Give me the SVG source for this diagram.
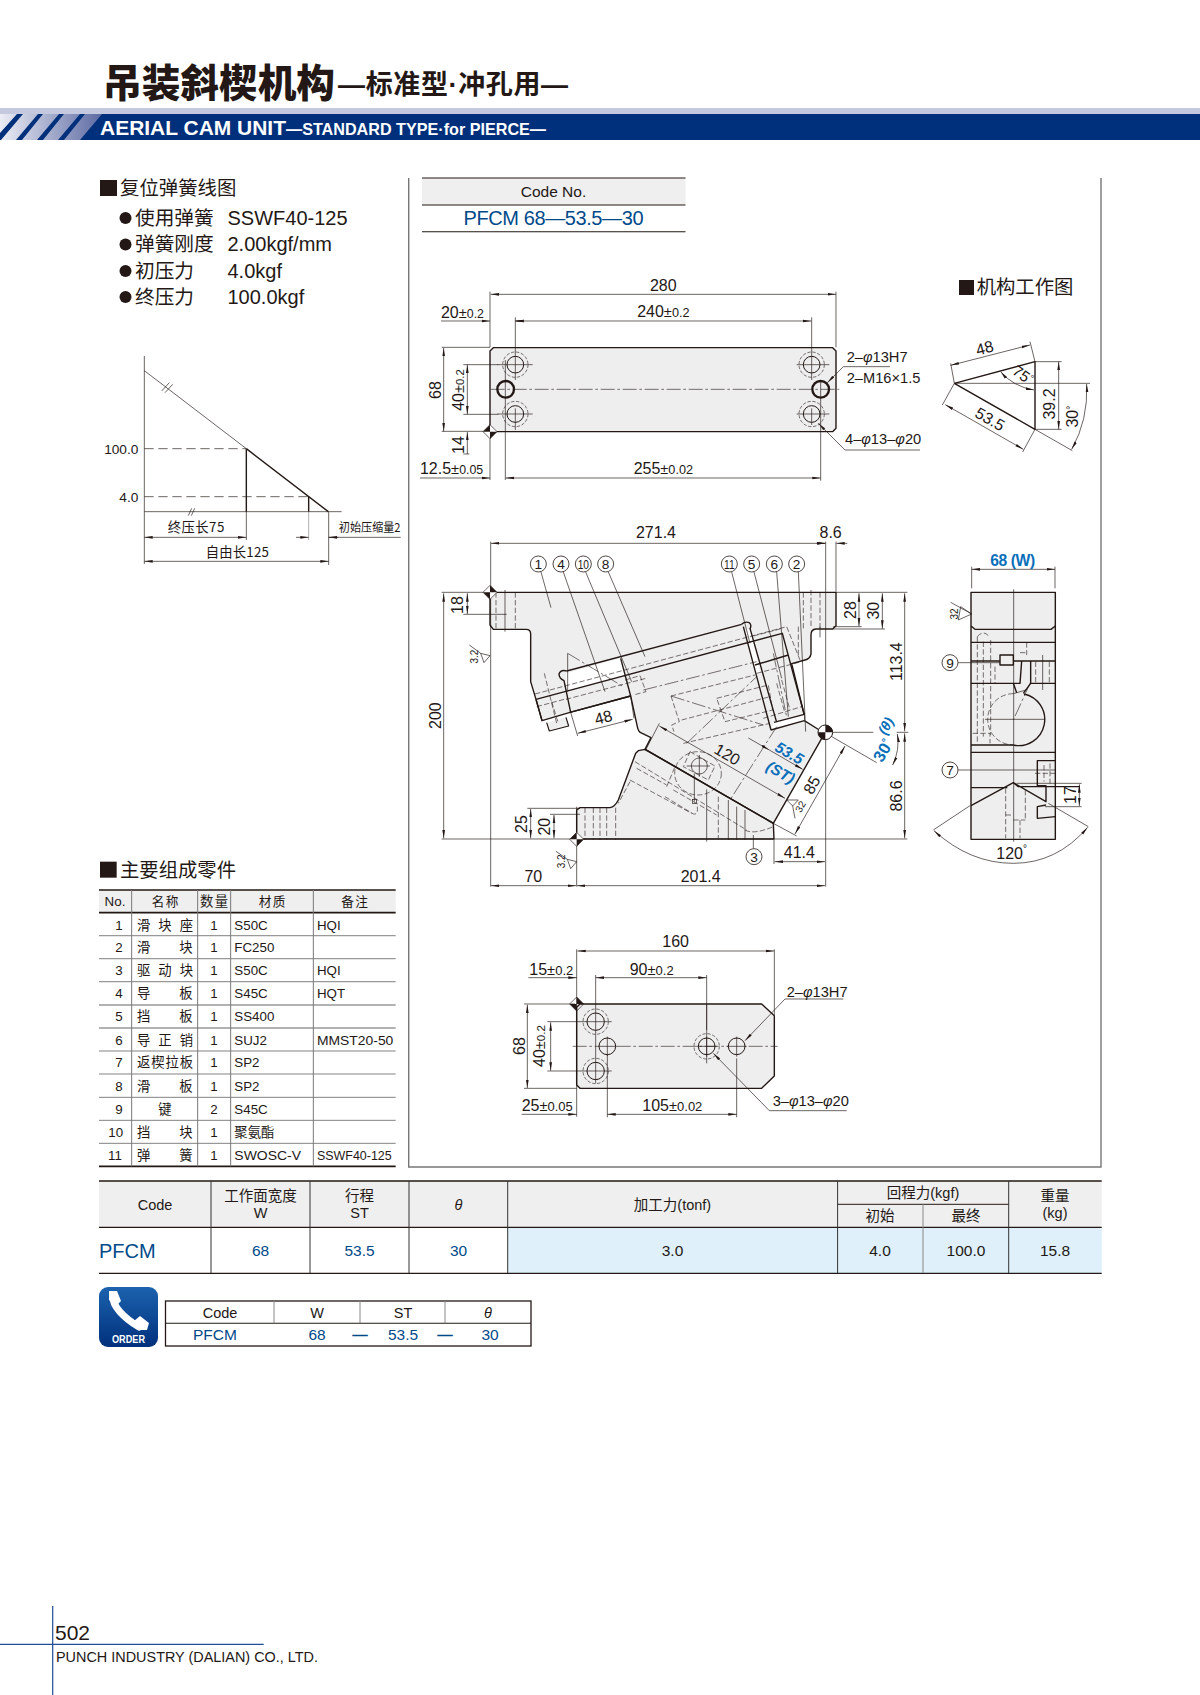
<svg xmlns="http://www.w3.org/2000/svg" width="1200" height="1695" viewBox="0 0 1200 1695">
<style>
text{font-family:"Liberation Sans","Noto Sans CJK SC",sans-serif;fill:#231815}
.cj{font-family:"Noto Sans CJK SC","Liberation Sans",sans-serif}
.mid{text-anchor:middle}
.end{text-anchor:end}
.blue{fill:#004a8a}
.sky{fill:#0a6fba;font-weight:bold}
.d{fill:none;stroke:#231815;stroke-width:2}
.g{fill:none;stroke:#8a8a8a;stroke-width:2}
.t{fill:none;stroke:#231815;stroke-width:4.2;stroke-linejoin:round}
.m{fill:none;stroke:#231815;stroke-width:3}
.ds{fill:none;stroke:#231815;stroke-width:1.800;stroke-dasharray:16 7}
.cl{fill:none;stroke:#231815;stroke-width:1.800;stroke-dasharray:42 8 8 8}
.body{fill:#eeeeee;stroke:#231815;stroke-width:4.2;stroke-linejoin:round}
.ar{marker-start:url(#a);marker-end:url(#a)}
.ae{marker-end:url(#a)}
.n{font-size:48px}
.h{font-size:14.5px}
.v{font-size:15.5px}
.w{fill:#fff;stroke:#231815;stroke-width:2.4}
</style>
<defs>
<marker id="a" markerUnits="userSpaceOnUse" markerWidth="26" markerHeight="10" refX="25" refY="5" orient="auto-start-reverse"><path d="M0,1 L25,5 L0,9 Z" fill="#231815"/></marker>
<linearGradient id="hg" x1="0" x2="1" y1="0" y2="0"><stop offset="0" stop-color="#eceDf5"/><stop offset="1" stop-color="#5d6ba3"/></linearGradient>
<linearGradient id="og" x1="0" x2="0" y1="0" y2="1"><stop offset="0" stop-color="#1c62ae"/><stop offset="1" stop-color="#00307c"/></linearGradient>
</defs>

<g id="header">
<text x="103" y="97" class="cj" font-size="38.5" font-weight="900" textLength="232" lengthAdjust="spacingAndGlyphs">吊装斜楔机构</text>
<text x="338" y="94" font-size="27" font-weight="700" textLength="230">—标准型·冲孔用—</text>
<rect x="0" y="108" width="1200" height="6" fill="#c5c9e0"/>
<rect x="0" y="114" width="1200" height="26" fill="#00307c"/>
<path d="M0,114H102L80,140H0Z" fill="url(#hg)"/>
<path d="M17,114h6L1,140h-1V133ZM38,114h5L22,140h-6ZM59,114h5L43,140h-6ZM80,114h5L64,140h-6Z" fill="#00307c"/>
<text x="100" y="135" font-size="21" font-weight="bold" style="fill:#fff" textLength="186" lengthAdjust="spacingAndGlyphs">AERIAL CAM UNIT</text>
<text x="286" y="134.500" font-size="16.500" font-weight="700" style="fill:#fff" textLength="260" lengthAdjust="spacingAndGlyphs">—STANDARD TYPE·for PIERCE—</text>
</g>

<g id="spring-spec">
<rect x="100" y="180" width="17" height="16" fill="#231815"/>
<text x="120" y="195" class="cj" font-size="19.400">复位弹簧线图</text>
<circle cx="125.500" cy="218" r="6" fill="#231815"/>
<circle cx="125.500" cy="244.500" r="6" fill="#231815"/>
<circle cx="125.500" cy="271" r="6" fill="#231815"/>
<circle cx="125.500" cy="297" r="6" fill="#231815"/>
<text x="135" y="225" class="cj" font-size="19.700">使用弹簧</text>
<text x="135" y="251" class="cj" font-size="19.700">弹簧刚度</text>
<text x="135" y="278" class="cj" font-size="19.700">初压力</text>
<text x="135" y="304" class="cj" font-size="19.700">终压力</text>
<text x="227.500" y="225" font-size="20">SSWF40-125</text>
<text x="227.500" y="251" font-size="20">2.00kgf/mm</text>
<text x="227.500" y="278" font-size="20">4.0kgf</text>
<text x="227.500" y="304" font-size="20">100.0kgf</text>
</g>

<g id="frame">
<path d="M408.700,178V1167H1101V178" fill="none" stroke="#777" stroke-width="1.400"/>
</g>

<g id="code-no">
<rect x="422" y="178" width="263.500" height="27" fill="#efefef"/>
<path d="M422,178H685.500M422,205H685.500M422,231.700H685.500" stroke="#231815" stroke-width="1.100" fill="none"/>
<text x="553.500" y="197" class="mid" font-size="15.500">Code No.</text>
<text x="553.500" y="224.500" class="mid blue" font-size="20" textLength="180">PFCM 68—53.5—30</text>
</g>

<g id="spring-chart" transform="translate(80 340) scale(.33333)">
<path class="d" d="M193,48V672M193,515H785M193,92L499,326"/>
<path class="t" d="M499,326L745,515M499,326V515M686,470V515"/>
<path class="d" d="M245,153L268,128M255,158L278,133M325,527L335,505M334,527L344,505"/>
<path class="ds" style="stroke-width:2;stroke-dasharray:28 14" d="M193,326H499M193,470H686"/>
<path class="g" d="M686,515V600"/>
<path class="d" d="M499,515V600M746,515V675"/>
<path class="d ar" d="M193,592H499"/>
<path class="d ar" d="M193,664H746"/>
<path class="d ae" d="M648,592H686"/>
<path class="d" d="M746,592H962"/>
<path class="d" marker-start="url(#a)" d="M746,592H775"/>
<text x="348" y="575" class="mid cj" font-size="40" textLength="170">终压长75</text>
<text x="472" y="652" class="mid cj" font-size="40" textLength="190">自由长125</text>
<text x="869" y="575" class="mid cj" font-size="37" textLength="185" lengthAdjust="spacingAndGlyphs">初始压缩量2</text>
<text x="175" y="342" class="end" font-size="41">100.0</text>
<text x="175" y="486" class="end" font-size="41">4.0</text>
</g>

<g id="top-view" transform="translate(410 260) scale(.33333)">
<path class="body" d="M250,263H1268L1278,273V505L1268,515H250L240,505V273Z"/>
<path class="cl" d="M242,388H1288"/>
<path class="d" d="M316,172V360M1205,172V360M1205,445V495M316,445V510M286,300V660M1232,360V662M240,95V262M240,516V660M1278,95V262"/>
<path class="d" d="M262,314H368M1160,314H1258M262,462H368M1160,462H1258"/>
<path class="d" d="M95,262H240M95,514H240M160,314H265M160,463H265M160,582H178"/>
<circle class="m" cx="316" cy="314" r="25"/>
<circle class="ds" cx="316" cy="314" r="38" style="stroke-dasharray:10 5"/>
<circle class="m" cx="316" cy="462" r="25"/>
<circle class="ds" cx="316" cy="462" r="38" style="stroke-dasharray:10 5"/>
<circle class="m" cx="1205" cy="314" r="25"/>
<circle class="ds" cx="1205" cy="314" r="38" style="stroke-dasharray:10 5"/>
<circle class="m" cx="1205" cy="462" r="25"/>
<circle class="ds" cx="1205" cy="462" r="38" style="stroke-dasharray:10 5"/>
<circle cx="287" cy="388" r="25" fill="none" stroke="#231815" stroke-width="7"/>
<circle cx="1232" cy="388" r="25" fill="none" stroke="#231815" stroke-width="7"/>
<path d="M240,494L261,515L240,536L219,515Z" fill="#fff" stroke="#231815" stroke-width="2"/>
<path d="M240,494L219,515H240ZM240,536L261,515H240Z" fill="#231815"/>
<path class="d ar" d="M242,103H1278"/>
<path class="d ar" d="M316,183H1204"/>
<path class="d ae" d="M93,183H240"/>
<path class="d" marker-start="url(#a)" d="M316,183H340"/>
<path class="d ar" d="M101,264V514"/>
<path class="d ar" d="M172,314V463"/>
<path class="d ae" d="M172,582V516"/>
<path class="d ae" d="M1440,320H1300L1252,368"/>
<path class="d ae" d="M1530,570H1305L1225,490"/>
<path class="d ae" d="M30,654H240"/>
<path class="d ar" d="M287,654H1232"/>
<text x="760" y="92" class="mid n">280</text>
<text x="760" y="170" class="mid n">240<tspan font-size="44">±</tspan><tspan font-size="38">0.2</tspan></text>
<text x="93" y="174" class="n">20<tspan font-size="44">±</tspan><tspan font-size="37">0.2</tspan></text>
<text x="30" y="642" class="n">12.5<tspan font-size="44">±</tspan><tspan font-size="37">0.05</tspan></text>
<text x="760" y="642" class="mid n">255<tspan font-size="44">±</tspan><tspan font-size="38">0.02</tspan></text>
<text transform="translate(92 390) rotate(-90)" class="mid n">68</text>
<text transform="translate(162 390) rotate(-90)" class="mid n">40<tspan font-size="44">±</tspan><tspan font-size="34">0.2</tspan></text>
<text transform="translate(162 555) rotate(-90)" class="mid n">14</text>
<text x="1310" y="305" font-size="44">2–<tspan font-style="italic">φ</tspan>13H7</text>
<text x="1310" y="368" font-size="44">2–M16×1.5</text>
<text x="1305" y="552" font-size="44">4–<tspan font-style="italic">φ</tspan>13–<tspan font-style="italic">φ</tspan>20</text>
</g>

<g id="working-diagram" transform="translate(910 260) scale(.33333)">
<rect x="147" y="60" width="45" height="45" fill="#231815"/>
<text x="200" y="102" class="cj" font-size="58">机构工作图</text>
<path class="t" d="M133,370L375,305V508L133,370"/>
<path class="d" d="M133,370H540M133,370L122,310M375,305L360,245M133,370L97,435M375,508L338,576M375,305H455M375,508H455M375,508L487,572"/>
<path class="d ar" d="M122,316L360,255"/>
<path class="d ar" d="M106,434L340,568"/>
<path class="d ar" d="M446,305V508"/>
<path class="d ar" d="M272,335Q310,380 372,390"/>
<path class="d ar" d="M530,372Q535,480 485,568"/>
<text transform="translate(228 280) rotate(-15)" class="mid n">48</text>
<text transform="translate(232 492) rotate(30)" class="mid n">53.5</text>
<text transform="translate(435 432) rotate(-90)" class="mid n">39.2</text>
<text transform="translate(330 358) rotate(35)" class="mid" font-size="46">75<tspan font-size="30" dy="-12">°</tspan></text>
<text transform="translate(505 470) rotate(-90)" class="mid n">30<tspan font-size="30" dy="-12">°</tspan></text>
</g>

<g id="front-view" transform="translate(410 510) scale(.33333)">
<path class="body" d="M250,247H1278V347L1268,357H1218Q1203,358 1203,375V432Q1200,447 1185,450L1145,461L1183,615V632L1228,660L1245,668L1090,940L705,718L723,683L692,668Q685,665 682,650L662,558L480,607L396,632L378,568L362,515V372Q362,358 348,358H250L240,345V258Z"/>
<path class="body" d="M500,900L510,893H600Q615,890 625,870L677,730L685,722L705,718L1090,940L1092,987H500Z"/>
<path d="M468,490L632,445L648,496L470,543Z" fill="#fff"/>
<path d="M1083,660L1183,632V613L1092,637Z" fill="#fff"/>
<path d="M1006,360L1022,357L1050,490L1038,492Z" fill="#fff"/>
<path class="body" d="M410,638L418,663L476,648L468,622" style="stroke-width:3.500"/>
<path class="t" d="M470,483L995,343M378,568L1117,370L1183,615M480,607L662,558M632,445L662,558M396,632L378,568M1083,660L1000,350M1100,637L1020,355M1083,660L1183,632M1092,637L1183,613M1035,465L1135,435M705,718L1090,940"/>
<path class="t" d="M470,483Q452,478 447,492Q447,505 462,512L482,607M995,343Q1005,333 1018,338Q1026,345 1020,357"/>
<path class="ds" d="M375,552L1130,350L1170,450M380,590L470,566M468,568L708,505M645,510L690,497L708,545L670,555M1030,378L1117,355M403,490L440,640M425,575L445,640"/>
<path class="cl" d="M473,430L640,530M700,540L1040,455M830,700L1040,500M783,558L1060,645M1100,650L960,870M1090,430L1130,620"/>
<path class="d" d="M473,430V545"/>
<path class="ds" d="M783,558L1035,495M783,558L808,635L785,645L792,665M820,700L1080,640M920,565L1075,525L1088,600L945,635ZM815,630L1080,560M1100,520L1125,610M1115,510L1140,600M1040,490L1175,455M1060,625L1175,590"/>
<path class="ds" d="M675,755L1010,960M660,810L845,910M680,775L770,825M790,840L920,915M1005,960Q1030,975 1090,950"/>
<ellipse class="ds" cx="864" cy="790" rx="70" ry="65"/>
<circle class="d" cx="868" cy="768" r="24"/>
<path class="d" d="M830,768H900M868,735V800M853,875V790"/>
<path class="ds" d="M840,725L915,768L895,810L820,770ZM770,830L795,770M765,860L850,912Q865,915 862,890"/>
<rect x="848" y="868" width="12" height="12" fill="none" stroke="#231815" stroke-width="2"/>
<path class="d" d="M890,838V995M955,870V990M980,890V990M1005,900V990"/>
<path class="ds" d="M925,860V985M525,893V990M550,893V990M570,893V990M590,893V990M617,893V990M660,815L625,880"/>
<path class="ds" d="M258,247V358M316,247V358M1180,247V358M1230,247V358M1203,240V355M1165,350V440"/>
<path class="d" d="M285,240V365M1230,350V382M500,890V1130M1247,95V1130M242,95V1130M1278,95V245M1092,990V1062"/>
<path class="d" d="M95,247H240M95,987H1492M160,313H290M1278,247H1492M1270,350H1355M1270,357H1425M352,895H510M420,913H510M1262,667H1390M1460,667H1495"/>
<path class="d ar" d="M101,250V985"/>
<path class="d ar" d="M172,250V312"/>
<path class="d ar" d="M1347,250V349"/>
<path class="d ar" d="M1417,250V356"/>
<path class="d ar" d="M1484,250V664"/>
<path class="d ar" d="M1484,670V985"/>
<path class="d ar" d="M362,897V985"/>
<path class="d ar" d="M432,915V985"/>
<path class="d ar" d="M243,100H1245"/>
<path class="d ae" d="M1220,100H1247"/>
<path class="d ae" d="M1312,100H1279"/>
<path class="d ar" d="M243,1127H498"/>
<path class="d ar" d="M501,1127H1245"/>
<path class="d ar" d="M1094,1055H1245"/>
<path class="d ar" d="M503,670L668,628"/>
<path class="d" d="M482,607L503,678M662,558L672,625"/>
<path class="d ar" d="M748,648L1125,865"/>
<path class="d" d="M748,640L708,718"/>
<path class="d ae" d="M1015,684L1078,720"/>
<path class="d ae" d="M1078,720L1178,778"/>
<path class="d ar" d="M1305,708L1155,972"/>
<path class="d" d="M1262,678L1400,758M1090,940L1160,978"/>
<path class="d ar" d="M1462,672Q1470,720 1448,765"/>
<path class="d" d="M393,186L423,293M460,186L585,545M527,186L665,515M595,186L705,440M965,186L1020,400M1032,186L1115,505M1100,186L1135,620M1165,186L1187,665M1030,1015V975"/>
<circle class="w" cx="385" cy="162" r="24"/><circle class="w" cx="453" cy="162" r="24"/><circle class="w" cx="520" cy="162" r="24"/><circle class="w" cx="587" cy="162" r="24"/>
<circle class="w" cx="958" cy="162" r="24"/><circle class="w" cx="1025" cy="162" r="24"/><circle class="w" cx="1093" cy="162" r="24"/><circle class="w" cx="1160" cy="162" r="24"/><circle class="w" cx="1032" cy="1040" r="24"/>
<text x="385" y="177" class="mid" font-size="41">1</text><text x="453" y="177" class="mid" font-size="41">4</text><text x="520" y="176" class="mid" font-size="38" textLength="34" lengthAdjust="spacingAndGlyphs">10</text><text x="587" y="177" class="mid" font-size="41">8</text>
<text x="958" y="176" class="mid" font-size="38" textLength="32" lengthAdjust="spacingAndGlyphs">11</text><text x="1025" y="177" class="mid" font-size="41">5</text><text x="1093" y="177" class="mid" font-size="41">6</text><text x="1160" y="177" class="mid" font-size="41">2</text><text x="1032" y="1055" class="mid" font-size="41">3</text>
<path d="M240,226L261,247L240,268L219,247Z" fill="#fff" stroke="#231815" stroke-width="2"/>
<path d="M240,226L261,247H240ZM240,268L219,247H240Z" fill="#231815"/>
<path d="M500,967L521,988L500,1009L479,988Z" fill="#fff" stroke="#231815" stroke-width="2"/>
<path d="M500,967V988H479ZM500,1009V988H521Z" fill="#231815"/>
<circle cx="1246" cy="667" r="22" fill="#fff" stroke="#231815" stroke-width="3"/>
<path d="M1246,667V645A22,22 0 0 1 1268,667ZM1246,667V689A22,22 0 0 1 1224,667Z" fill="#231815"/>
<path class="d" d="M178,405L212,430L240,437L222,458L212,430"/>
<path class="d" d="M438,1024L472,1048L500,1055L482,1076L472,1048"/>
<path class="d" d="M1130,870H1165L1148,888ZM1148,888L1155,925"/>
<text transform="translate(205 440) rotate(-90)" class="mid" font-size="30">3.2</text>
<text transform="translate(465 1054) rotate(-90)" class="mid" font-size="30">3.2</text>
<text transform="translate(1172 890) rotate(-60)" y="10" class="mid" font-size="30">32</text>
<text x="738" y="85" class="mid n">271.4</text>
<text x="1262" y="85" class="mid n">8.6</text>
<text transform="translate(92 617) rotate(-90)" class="mid n">200</text>
<text transform="translate(160 285) rotate(-90)" class="mid n">18</text>
<text transform="translate(1337 300) rotate(-90)" class="mid n">28</text>
<text transform="translate(1407 302) rotate(-90)" class="mid n">30</text>
<text transform="translate(1475 455) rotate(-90)" class="mid n">113.4</text>
<text transform="translate(1475 858) rotate(-90)" class="mid n">86.6</text>
<text transform="translate(352 942) rotate(-90)" class="mid n">25</text>
<text transform="translate(420 950) rotate(-90)" class="mid n">20</text>
<text x="370" y="1115" class="mid n">70</text>
<text x="872" y="1115" class="mid n">201.4</text>
<text x="1168" y="1045" class="mid n">41.4</text>
<text transform="translate(580 622) rotate(-15)" y="17" class="mid n">48</text>
<text transform="translate(952 733) rotate(30)" y="17" class="mid n">120</text>
<text transform="translate(1205 825) rotate(-60)" y="17" class="mid n">85</text>
<text transform="translate(1138 729) rotate(30)" y="16" class="mid sky" font-size="46" font-style="italic">53.5</text>
<text transform="translate(1112 787) rotate(30)" y="16" class="mid sky" font-size="46" font-style="italic">(ST)</text>
<text transform="translate(1420 722) rotate(-60)" y="16" class="mid sky" font-size="50">30<tspan font-size="32" dy="-14">°</tspan></text>
<text transform="translate(1428 648) rotate(-60)" y="14" class="mid sky" font-size="42" font-style="italic">(θ)</text>
</g>

<g id="side-view" transform="translate(920 540) scale(.33333)">
<rect class="body" x="153" y="157" width="253" height="741"/>
<path class="t" d="M153,258L165,268H393L406,258M153,307H406M153,363H240M280,363H406M153,430H280M332,430H406M153,615H280M153,637H406M153,743H262"/>
<path class="t" d="M153,797L280,728L378,785V737H352V662H406M378,795L352,800V835L406,830M280,728L295,740H480"/>
<path class="t" d="M240,345H280V375H240ZM305,363L300,430H280L290,458M332,363V430L310,460"/>
<path class="t" d="M312,462A77,77 0 0 1 280,615"/>
<path class="ds" d="M280,461A77,77 0 0 0 280,615"/>
<path class="ds" d="M172,290V610M190,305V590M212,300V585M172,290Q190,268 208,290M158,580H210V610M225,380V430M347,365V430M388,365V430M257,745V895M300,840V895M316,750V840M257,825H280M280,840H316M320,307V345M300,338H320M372,675V725M345,700H410M390,670V730"/>
<path class="d" d="M281,148V905M368,345V450M195,538H372M280,461L318,450"/>
<path class="cl" d="M330,430L280,540"/>
<path class="d ar" d="M155,88H405"/>
<path class="d" d="M155,80V145M405,80V145M290,730H485M375,800H485M150,797L40,870M385,790L505,860M114,368H240M114,690H405M92,187L155,222L122,200L115,240L155,222"/>
<path class="d ar" d="M478,733V798"/>
<path class="d ar" d="M42,872Q150,970 280,970T503,862"/>
<circle class="w" cx="90" cy="368" r="24"/><circle class="w" cx="90" cy="690" r="24"/>
<text x="90" y="383" class="mid" font-size="41">9</text>
<text x="90" y="705" class="mid" font-size="41">7</text>
<text x="278" y="78" class="mid sky" font-size="47" textLength="135">68 (W)</text>
<text transform="translate(467 765) rotate(-90)" class="mid n">17</text>
<text x="275" y="957" class="mid n">120<tspan font-size="30" dy="-20">°</tspan></text>
<text transform="translate(115 222) rotate(-90)" class="mid" font-size="30">32</text>
</g>

<g id="bottom-view" transform="translate(500 920) scale(.33333)">
<path class="body" d="M240,252H785L823,287V468L785,505H240L230,495V262Z"/>
<path class="cl" d="M218,379H833"/>
<path class="d" d="M230,88V590M823,88V285M287,165V490M620,165V430M322,379V592M710,415V592M72,252H225M72,505H230M142,305H335M142,453H335M620,255V330"/>
<circle class="m" cx="287" cy="305" r="26"/><circle class="ds" cx="287" cy="305" r="38" style="stroke-dasharray:10 5"/>
<circle class="m" cx="287" cy="453" r="26"/><circle class="ds" cx="287" cy="453" r="38" style="stroke-dasharray:10 5"/>
<circle class="m" cx="322" cy="379" r="25" style="fill:#eee"/>
<circle class="m" cx="620" cy="379" r="25"/><circle class="ds" cx="620" cy="379" r="38" style="stroke-dasharray:10 5"/>
<circle class="m" cx="710" cy="379" r="25" style="fill:#eee"/>
<path class="d" d="M322,350V408M295,379H350M620,350V410M590,379H650M710,350V410M680,379H740"/>
<path d="M230,231L251,252H230ZM230,273L209,252H230Z" fill="#231815"/>
<path d="M230,231L251,252L230,273L209,252Z" fill="none" stroke="#231815" stroke-width="2"/>
<path class="d ar" d="M232,93H822"/>
<path class="d ae" d="M85,173H230"/>
<path class="d ar" d="M287,173H620"/>
<path class="d ar" d="M82,254V504"/>
<path class="d ar" d="M152,307V452"/>
<path class="d ae" d="M65,583H230"/>
<path class="d ar" d="M322,583H710"/>
<path class="d ae" d="M1030,237H855L735,362"/>
<path class="d ae" d="M1040,572H808L640,400"/>
<text x="527" y="82" class="mid n">160</text>
<text x="88" y="165" class="n">15<tspan font-size="44">±</tspan><tspan font-size="39">0.2</tspan></text>
<text x="455" y="165" class="mid n">90<tspan font-size="44">±</tspan><tspan font-size="39">0.2</tspan></text>
<text x="65" y="573" class="n">25<tspan font-size="44">±</tspan><tspan font-size="39">0.05</tspan></text>
<text x="517" y="573" class="mid n">105<tspan font-size="44">±</tspan><tspan font-size="39">0.02</tspan></text>
<text transform="translate(75 378) rotate(-90)" class="mid n">68</text>
<text transform="translate(135 378) rotate(-90)" class="mid n">40<tspan font-size="44">±</tspan><tspan font-size="35">0.2</tspan></text>
<text x="860" y="230" font-size="44">2–<tspan font-style="italic">φ</tspan>13H7</text>
<text x="818" y="558" font-size="44">3–<tspan font-style="italic">φ</tspan>13–<tspan font-style="italic">φ</tspan>20</text>
</g>

<g id="parts-table" transform="translate(90 850) scale(.33333)">
<rect x="30" y="35" width="50" height="48" fill="#231815"/>
<text x="90" y="82" class="cj" font-size="58">主要组成零件</text>
<rect x="27" y="120" width="890" height="67" fill="#efefef"/>
<path d="M27,257H917M27,326H917M27,395H917M27,465H917M27,534H917" stroke="#999" stroke-width="4"/>
<path d="M27,603H917M27,672H917M27,742H917M27,811H917M27,880H917" stroke="#444" stroke-width="2"/>
<path d="M27,120H917M27,188H917M27,949H917" stroke="#231815" stroke-width="5"/>
<path d="M125,120V949M323,120V949M422,120V949M670,120V949" stroke="#777" stroke-width="3"/>
<text x="75" y="167" class="mid" font-size="40">No.</text>
<text x="225" y="167" class="mid cj" font-size="38" textLength="80">名称</text>
<text x="372" y="167" class="mid cj" font-size="40" textLength="84">数量</text>
<text x="546" y="167" class="mid cj" font-size="38" textLength="80">材质</text>
<text x="794" y="167" class="mid cj" font-size="38" textLength="80">备注</text>
<g font-size="40" text-anchor="middle">
<text x="87" y="239">1</text><text x="87" y="306">2</text><text x="87" y="376">3</text><text x="87" y="445">4</text><text x="87" y="514">5</text><text x="87" y="584">6</text><text x="87" y="652">7</text><text x="87" y="722">8</text><text x="87" y="791">9</text><text x="77" y="860">10</text><text x="75" y="929">11</text>
<text x="372" y="239">1</text><text x="372" y="306">1</text><text x="372" y="376">1</text><text x="372" y="445">1</text><text x="372" y="514">1</text><text x="372" y="584">1</text><text x="372" y="652">1</text><text x="372" y="722">1</text><text x="372" y="791">2</text><text x="372" y="860">1</text><text x="372" y="929">1</text>
</g>
<g font-size="40">
<text x="141" y="239" class="cj" textLength="168">滑 块 座</text>
<text x="141" y="306" class="cj">滑</text><text x="268" y="306" class="cj">块</text>
<text x="141" y="376" class="cj" textLength="168">驱 动 块</text>
<text x="141" y="445" class="cj">导</text><text x="268" y="445" class="cj">板</text>
<text x="141" y="514" class="cj">挡</text><text x="268" y="514" class="cj">板</text>
<text x="141" y="584" class="cj" textLength="168">导 正 销</text>
<text x="141" y="652" class="cj" textLength="168">返楔拉板</text>
<text x="141" y="722" class="cj">滑</text><text x="268" y="722" class="cj">板</text>
<text x="205" y="791" class="cj">键</text>
<text x="141" y="860" class="cj">挡</text><text x="268" y="860" class="cj">块</text>
<text x="141" y="929" class="cj">弹</text><text x="268" y="929" class="cj">簧</text>
</g>
<g font-size="40">
<text x="433" y="239">S50C</text><text x="433" y="306">FC250</text><text x="433" y="376">S50C</text><text x="433" y="445">S45C</text><text x="433" y="514">SS400</text><text x="433" y="584">SUJ2</text><text x="433" y="652">SP2</text><text x="433" y="722">SP2</text><text x="433" y="791">S45C</text><text x="433" y="860" class="cj">聚氨酯</text><text x="433" y="929" textLength="200" lengthAdjust="spacingAndGlyphs">SWOSC-V</text>
<text x="681" y="239">HQI</text><text x="681" y="376">HQI</text><text x="681" y="445">HQT</text><text x="681" y="584" textLength="229" lengthAdjust="spacingAndGlyphs">MMST20-50</text><text x="681" y="929" textLength="224" lengthAdjust="spacingAndGlyphs">SSWF40-125</text>
</g>
</g>

<g id="spec-table">
<rect x="99" y="1181" width="1002.700" height="46.300" fill="#efefef"/>
<rect x="507.700" y="1227.300" width="594" height="46" fill="#dff0fa"/>
<path d="M837.600,1204.300H1008.700" stroke="#231815" stroke-width="1"/>
<path d="M99,1181H1101.700M99,1227.300H1101.700M99,1273.300H1101.700" stroke="#231815" stroke-width="1.300"/>
<path d="M211,1181V1273M310,1181V1273M409,1181V1273M507.700,1181V1273M837.600,1181V1273M1008.700,1181V1273" stroke="#333" stroke-width="1"/>
<path d="M923,1204.300V1273" stroke="#888" stroke-width="1"/>
<text x="155" y="1210" class="mid h">Code</text>
<text x="260.500" y="1201" class="mid h">工作面宽度</text>
<text x="260.500" y="1218" class="mid h">W</text>
<text x="359.500" y="1201" class="mid h">行程</text>
<text x="359.500" y="1218" class="mid h">ST</text>
<text x="458.500" y="1210" class="mid h" font-style="italic">θ</text>
<text x="672.500" y="1210" class="mid h">加工力(tonf)</text>
<text x="923" y="1198" class="mid h">回程力(kgf)</text>
<text x="880" y="1221" class="mid h">初始</text>
<text x="966" y="1221" class="mid h">最终</text>
<text x="1055" y="1201" class="mid h">重量</text>
<text x="1055" y="1218" class="mid h">(kg)</text>
<text x="99" y="1258" font-size="20" class="blue">PFCM</text>
<text x="260.500" y="1256" class="mid v blue">68</text>
<text x="359.500" y="1256" class="mid v blue">53.5</text>
<text x="458.500" y="1256" class="mid v blue">30</text>
<text x="672.500" y="1256" class="mid v">3.0</text>
<text x="880" y="1256" class="mid v">4.0</text>
<text x="966" y="1256" class="mid v">100.0</text>
<text x="1055" y="1256" class="mid v">15.8</text>
</g>

<g id="order">
<rect x="99" y="1287" width="59" height="60" rx="9" fill="url(#og)"/>
<path d="M113,1296C112,1306 124,1318 139,1327" fill="none" stroke="#fff" stroke-width="7" stroke-linecap="round"/>
<path d="M109,1291h8l4,10l-5,5l-7,-6ZM134,1321l6,-5l9,7l-2,7h-6Z" fill="#fff"/>
<text x="128.500" y="1342.500" class="mid" font-size="10.500" font-weight="bold" style="fill:#fff" textLength="33" lengthAdjust="spacingAndGlyphs">ORDER</text>
<rect x="165.500" y="1301" width="365.500" height="45" fill="#fff" stroke="#231815" stroke-width="1.300"/>
<path d="M165.500,1323.300H531" stroke="#231815" stroke-width="1.100"/>
<path d="M274,1301V1323M360,1301V1323M445,1301V1323" stroke="#888" stroke-width="1"/>
<text x="220" y="1318" class="mid h">Code</text>
<text x="317" y="1318" class="mid h">W</text>
<text x="403" y="1318" class="mid h">ST</text>
<text x="488" y="1318" class="mid h" font-style="italic">θ</text>
<text x="215" y="1340" class="mid v blue">PFCM</text>
<text x="317" y="1340" class="mid v blue">68</text>
<text x="360" y="1340" class="mid v blue" font-size="11" font-weight="bold">—</text>
<text x="403" y="1340" class="mid v blue">53.5</text>
<text x="445" y="1340" class="mid v blue" font-size="11" font-weight="bold">—</text>
<text x="490" y="1340" class="mid v blue">30</text>
</g>

<g id="footer">
<path d="M52.700,1606V1695M0,1644.300H263.700" fill="none" stroke="#1f4e96" stroke-width="1.200"/>
<text x="55" y="1640" font-size="21">502</text>
<text x="56" y="1661.700" font-size="14.500" textLength="262" lengthAdjust="spacingAndGlyphs">PUNCH INDUSTRY (DALIAN) CO., LTD.</text>
</g>
</svg>
